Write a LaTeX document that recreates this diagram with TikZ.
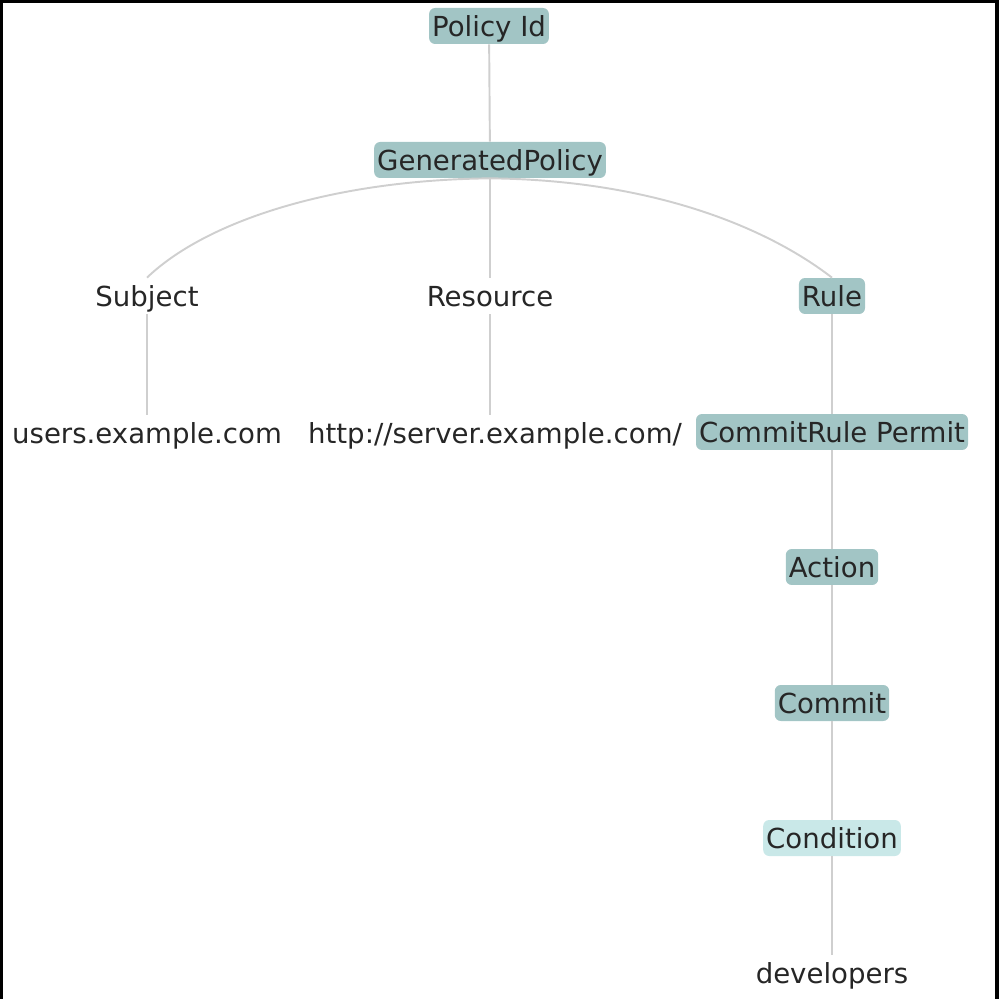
\documentclass[tikz,border=0pt]{standalone}
\usepackage{fontspec}
\setmainfont{DejaVu Sans}
\usepackage{tikz}
\usetikzlibrary{positioning}

\definecolor{boxteal}{HTML}{A2C5C5}
\definecolor{boxlight}{HTML}{C9E8E8}
\definecolor{edgegray}{HTML}{CFCFCF}

\begin{document}
\begin{tikzpicture}[x=0.02cm,y=-0.02cm,
        every node/.style={font=\fontsize{15.7pt}{18pt}\selectfont,text=black!85,
            text height=12.5pt,text depth=1pt,
            minimum height=0.72cm,inner xsep=0.06cm,inner ysep=0pt},
        pbox/.style={fill=boxteal,rounded corners=0.12cm},
        lbox/.style={fill=boxlight,rounded corners=0.12cm},
        link/.style={edgegray,line width=1.1pt}]
            \useasboundingbox (0,0) rectangle (998,999);

            \node[pbox] (pid) at (489,26) {Policy Id};
            \node[pbox] (gen) at (490,160) {GeneratedPolicy};
            \node (subj) at (147,296) {Subject};
            \node (res) at (490,296) {Resource};
            \node[pbox] (rule) at (832,296) {Rule};
            \node (users) at (147,433) {users.example.com};
            \node (url) at (495,433) {http://server.example.com/};
            \node[pbox] (crule) at (832,432) {CommitRule Permit};
            \node[pbox] (act) at (832,567) {Action};
            \node[pbox] (com) at (832,703) {Commit};
            \node[lbox] (cond) at (832,838) {Condition};
            \node (dev) at (832,973) {developers};

            \draw[link] (pid)--(gen);
            \draw[link] (gen.south) .. controls (330,180) and (205,222) .. (subj.north);
            \draw[link] (gen.south) .. controls (650,180) and (765,226) .. (rule.north);
            \draw[link] (gen)--(res);
            \draw[link] (subj)--(users);
            \draw[link] (res.south)--(res.south |- url.north);
            \draw[link] (rule)--(crule);
            \draw[link] (crule)--(act);
            \draw[link] (act)--(com);
            \draw[link] (com)--(cond);
            \draw[link] (cond)--(dev);

            \draw[line width=2pt] (1,999)--(1,1)--(997,1)--(997,999);
        \end{tikzpicture}
\end{document}
